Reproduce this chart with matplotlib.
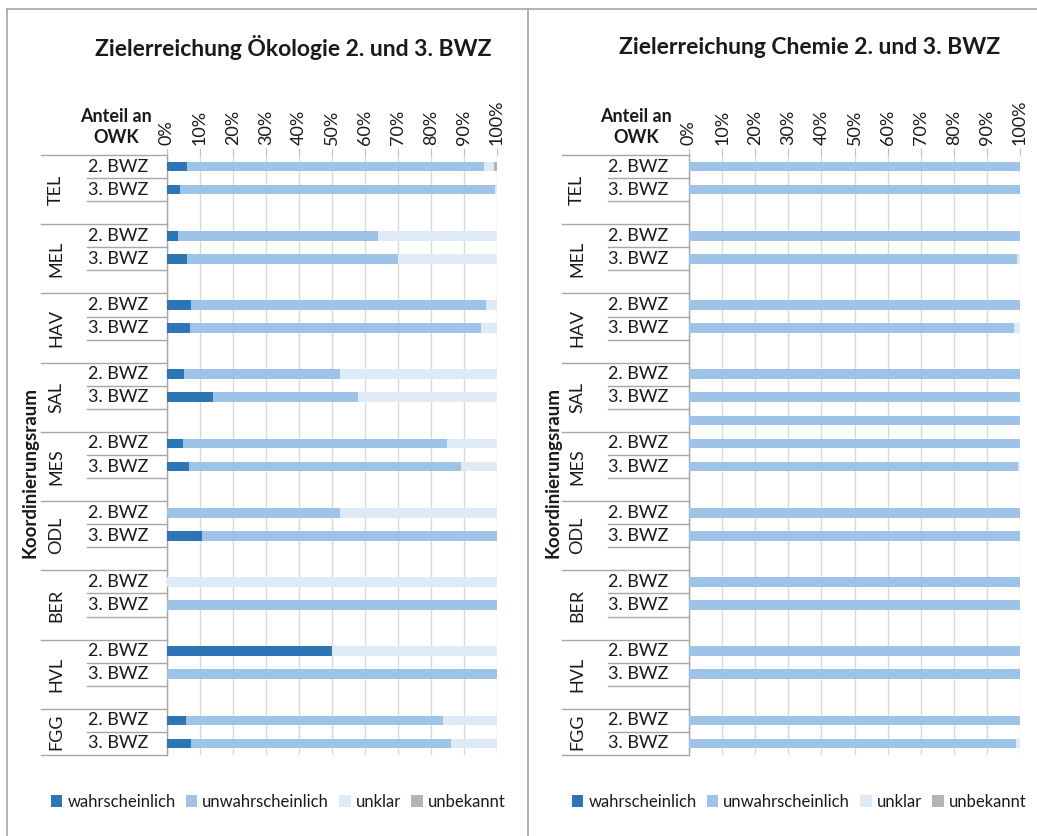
import matplotlib
matplotlib.use("Agg")
import matplotlib.pyplot as plt
from matplotlib.lines import Line2D
from matplotlib.patches import Patch
import matplotlib.transforms as mtransforms
import numpy as np

plt.rcParams['font.family'] = ['Lato', 'DejaVu Sans']

# ---------------- data ----------------
groups = ["TEL", "MEL", "HAV", "SAL", "MES", "ODL", "BER", "HVL", "FGG"]
row_labels = ["2. BWZ", "3. BWZ"]
series_names = ["wahrscheinlich", "unwahrscheinlich", "unklar", "unbekannt"]
colors = ["#2E75B6", "#9DC3E6", "#DEEBF7", "#B4B4B4"]

# slots: per group 2. BWZ, 3. BWZ, (gap) ; last group has no gap -> 26 slots
# Ökologie
oek_wahr   = [6.0, 4.0, 0,  3.3, 6.0, 0,  7.2, 6.9, 0,  5.2, 14.0, 0,  4.8, 6.7, 0,  0.0, 10.5, 0,  0, 0, 0,    50, 0, 0,    5.8, 7.3]
oek_unwahr = [90.0, 95.5, 0, 60.7, 64.0, 0, 89.4, 88.3, 0, 47.3, 44.0, 0, 80.0, 82.4, 0, 52.5, 89.5, 0, 0, 100, 0, 0, 100, 0, 77.7, 78.9]
oek_unklar = [3.0, 0.5, 0,  36.0, 30.0, 0, 3.4, 4.8, 0,  47.5, 42.0, 0, 15.2, 10.9, 0, 47.5, 0.0, 0,  100, 0, 0,  50, 0, 0,   16.5, 13.8]
oek_unbek  = [1.0, 0, 0,    0, 0, 0,      0, 0, 0,      0, 0, 0,        0, 0, 0,        0, 0, 0,      0, 0, 0,    0, 0, 0,     0, 0]

# Chemie (SAL has an additional bar in its gap slot)
che_wahr   = [0] * 26
che_unwahr = [100, 100, 0, 100, 99.0, 0, 100, 98.3, 0, 100, 100, 100, 100, 99.5, 0, 100, 100, 0, 100, 100, 0, 100, 100, 0, 100, 98.8]
che_unklar = [0, 0, 0, 0, 1.0, 0, 0, 1.7, 0, 0, 0, 0, 0, 0.5, 0, 0, 0, 0, 0, 0, 0, 0, 0, 0, 0, 1.2]
che_unbek  = [0] * 26

titles = ["Zielerreichung Ökologie 2. und 3. BWZ", "Zielerreichung Chemie 2. und 3. BWZ"]
xticks = list(range(0, 101, 10))
xticklabels = [f"{t}%" for t in xticks]

# ---------------- layout ----------------
W, H = 1037, 836
fig = plt.figure(figsize=(W / 100, H / 100), dpi=100)

def fx(px):
    return px / W

def fy(py):
    return 1 - py / H

panels = [
    dict(x0=167, x1=497, title_x=293, owk_x=116, koord_x=30, grp_x=56,
         grp_line=41, inner_line=87, row_x=118,
         data=[oek_wahr, oek_unwahr, oek_unklar, oek_unbek], leg_x=278),
    dict(x0=689, x1=1020, title_x=810, owk_x=636, koord_x=553, grp_x=577,
         grp_line=562, inner_line=608, row_x=638,
         data=[che_wahr, che_unwahr, che_unklar, che_unbek], leg_x=799),
]

ytop, ybot = 155, 755
nslots = 26
gray_line = "#A6A6A6"
txt_col = "#1A1A1A"

for pi, p in enumerate(panels):
    ax = fig.add_axes([fx(p["x0"]), fy(ybot), fx(p["x1"] - p["x0"]), (ybot - ytop) / H])
    ypos = np.arange(nslots)
    left = np.zeros(nslots)
    for vals, col in zip(p["data"], colors):
        v = np.array(vals, dtype=float)
        ax.barh(ypos, v, left=left, height=0.42, color=col, edgecolor="none", zorder=3)
        left += v
    ax.set_xlim(0, 100)
    ax.set_ylim(nslots - 0.5, -0.5)
    ax.xaxis.tick_top()
    ax.set_xticks(xticks)
    ax.set_xticklabels(xticklabels, rotation=90, fontsize=13, color=txt_col)
    ax.tick_params(axis="x", length=5, color="#BFBFBF", pad=2)
    ax.set_yticks([])
    ax.grid(axis="x", color="#D9D9D9", lw=1, zorder=0)
    for s in ["top", "right", "bottom"]:
        ax.spines[s].set_visible(False)
    ax.spines["left"].set_color(gray_line)
    ax.spines["left"].set_linewidth(1)

    tr = mtransforms.blended_transform_factory(fig.transFigure, ax.transData)
    xr = fx(p["x0"])
    # group lines, labels
    for gi, g in enumerate(groups):
        s0 = gi * 3
        nrow = 3 if gi < len(groups) - 1 else 2
        fig.add_artist(Line2D([fx(p["grp_line"]), xr], [s0 - 0.5, s0 - 0.5], transform=tr,
                              color=gray_line, lw=1))
        ax.text(fx(p["grp_x"]), s0 - 0.5 + nrow / 2, g, transform=tr, rotation=90,
                ha="center", va="center", fontsize=13, color=txt_col)
        for r in range(nrow):
            yl = s0 + r + 0.5
            if r == nrow - 1 and gi < len(groups) - 1:
                continue
            if gi == len(groups) - 1 and r == nrow - 1:
                fig.add_artist(Line2D([fx(p["grp_line"]), xr], [yl, yl], transform=tr,
                                      color=gray_line, lw=1))
            else:
                fig.add_artist(Line2D([fx(p["inner_line"]), xr], [yl, yl], transform=tr,
                                      color=gray_line, lw=1))
        for r, lab in enumerate(row_labels):
            ax.text(fx(p["row_x"]), s0 + r, lab, transform=tr, ha="center", va="center",
                    fontsize=13, color=txt_col)

    fig.text(fx(p["title_x"]), fy(47), titles[pi], ha="center", va="center",
             fontsize=16.5, fontweight="bold", color=txt_col)
    fig.text(fx(p["owk_x"]), fy(127), "Anteil an\nOWK", ha="center", va="center",
             fontsize=13, fontweight="bold", color=txt_col, linespacing=1.25)
    fig.text(fx(p["koord_x"]), fy(473), "Koordinierungsraum", rotation=90,
             ha="center", va="center", fontsize=13.5, fontweight="bold", color=txt_col)

    handles = [Patch(facecolor=c, edgecolor="none") for c in colors]
    fig.legend(handles, series_names, loc="center", bbox_to_anchor=(fx(p["leg_x"]), fy(802)),
               ncol=4, frameon=False, fontsize=12, handlelength=0.7, handleheight=0.7,
               handletextpad=0.3, columnspacing=0.6, borderpad=0, labelcolor=txt_col)

# frame lines
fig.add_artist(Line2D([fx(7), fx(7)], [0, fy(9)], color=gray_line, lw=1.2))
fig.add_artist(Line2D([fx(7), 1], [fy(9), fy(9)], color=gray_line, lw=1.2))
fig.add_artist(Line2D([fx(528), fx(528)], [0, fy(9)], color=gray_line, lw=1.2))

fig.savefig("out.png", dpi=100)
